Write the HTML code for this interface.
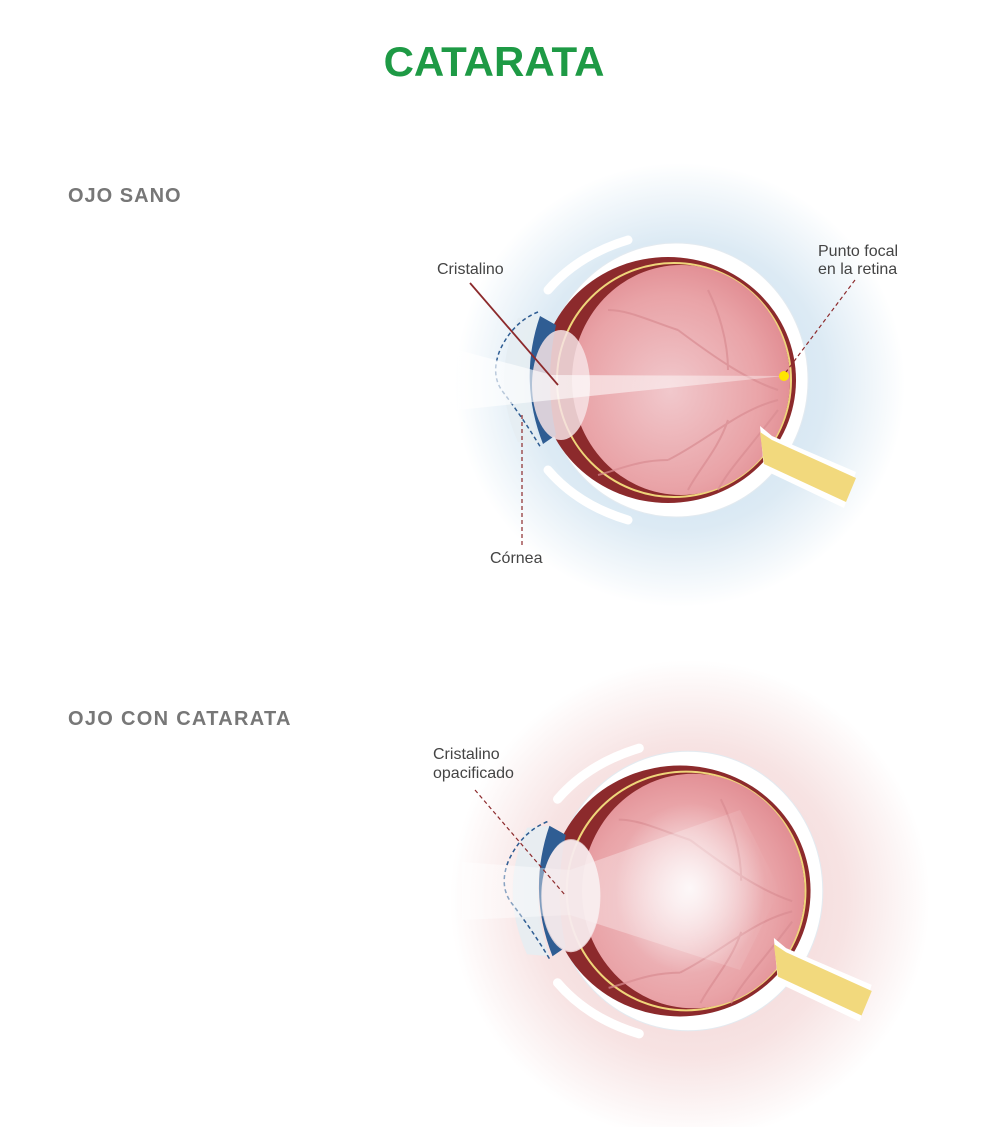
<!DOCTYPE html>
<html><head><meta charset="utf-8"><style>
html,body{margin:0;padding:0;background:#fff;}
svg{display:block;font-family:"Liberation Sans",sans-serif;}
</style></head><body>
<svg width="989" height="1127" viewBox="0 0 989 1127" xmlns="http://www.w3.org/2000/svg">
<defs>
<radialGradient id="gb" cx="0.5" cy="0.5" r="0.5">
<stop offset="0" stop-color="#c6dded"/><stop offset="0.65" stop-color="#dceaf4"/><stop offset="1" stop-color="#ffffff"/></radialGradient>
<radialGradient id="gp" cx="0.5" cy="0.5" r="0.5">
<stop offset="0" stop-color="#f1cfcf"/><stop offset="0.65" stop-color="#f7e3e3"/><stop offset="1" stop-color="#ffffff"/></radialGradient>
<radialGradient id="pink" cx="0.45" cy="0.55" r="0.6">
<stop offset="0" stop-color="#f1c8cc"/><stop offset="0.7" stop-color="#e9a3a7"/><stop offset="1" stop-color="#e08a90"/></radialGradient>
<linearGradient id="beam" x1="0" x2="1"><stop offset="0" stop-color="#fff" stop-opacity="0.95"/><stop offset="1" stop-color="#fff" stop-opacity="0.45"/></linearGradient>
<linearGradient id="beam2" x1="0" x2="1"><stop offset="0" stop-color="#fff" stop-opacity="0.8"/><stop offset="0.7" stop-color="#fff" stop-opacity="0.4"/><stop offset="1" stop-color="#fff" stop-opacity="0"/></linearGradient>
<radialGradient id="cloud" cx="0.5" cy="0.5" r="0.5"><stop offset="0" stop-color="#fff" stop-opacity="0.85"/><stop offset="1" stop-color="#fff" stop-opacity="0"/></radialGradient>
<g id="eye">
<ellipse cx="8" cy="0" rx="132" ry="137" fill="#fff" stroke="#e3eaf0" stroke-width="1"/>
<path d="M-40,-140 Q-90,-125 -120,-90" stroke="#fff" stroke-width="9" fill="none" stroke-linecap="round"/>
<path d="M-40,140 Q-90,125 -120,90" stroke="#fff" stroke-width="9" fill="none" stroke-linecap="round"/>
<ellipse cx="0" cy="0" rx="128" ry="123" fill="#8c2a2c"/>
<ellipse cx="6" cy="0" rx="117" ry="117" fill="none" stroke="#efd57a" stroke-width="2"/>
<ellipse cx="13" cy="0" rx="109" ry="115" fill="url(#pink)"/>
<g stroke="#d98c92" stroke-width="2" fill="none" opacity="0.7">
<path d="M110,20 C70,30 40,60 0,80 M60,40 C50,70 30,90 20,110 M110,10 C80,0 50,-20 10,-50 M60,-10 C60,-40 50,-70 40,-90 M110,30 C80,70 60,90 50,110 M10,-50 C-20,-60 -40,-70 -60,-70 M0,80 C-30,80 -50,90 -70,95"/>
</g>
<path d="M-128,-64 Q-150,0 -128,64 L-150,62 Q-178,0 -150,-62 Z" fill="#e6edf2" opacity="0.9"/>
<path d="M-128,-64 L-112,-55 Q-124,0 -112,55 L-125,64 Q-150,0 -128,-64 Z" fill="#2f5d93"/>
<ellipse cx="-107" cy="5" rx="29" ry="55" fill="#f6e3e5" opacity="0.85"/>
<path d="M-130,-68 Q-155,-58 -168,-30 Q-178,-5 -165,12 Q-145,38 -127,68" stroke="#2f5d93" stroke-width="1.5" stroke-dasharray="4,3" fill="none"/>
<path d="M92,46 L104,56 L188,92 L176,128 L96,90 Z" fill="#fff"/>
<path d="M92,52 L104,60 L188,98 L178,122 L96,84 Z" fill="#f2d97d"/>
</g>
</defs>
<text x="494" y="76" text-anchor="middle" font-size="42" font-weight="bold" fill="#1e9a45">CATARATA</text>
<text x="68" y="202" font-size="20" font-weight="bold" fill="#777" letter-spacing="1">OJO SANO</text>
<text x="68" y="725" font-size="20" font-weight="bold" fill="#777" letter-spacing="1.3">OJO CON CATARATA</text>
<ellipse cx="680" cy="385" rx="225" ry="222" fill="url(#gb)"/>
<ellipse cx="690" cy="900" rx="240" ry="240" fill="url(#gp)"/>
<use href="#eye" transform="translate(668,380)"/>
<path d="M458,350 L552,375 L784,376 L552,400 L458,410 Z" fill="url(#beam)" opacity="0.75"/>
<circle cx="784" cy="376" r="5" fill="#ffe600"/>
<use href="#eye" transform="translate(680,891) scale(1.02)"/>
<path d="M462,862 L570,870 L740,810 L780,890 L740,970 L570,915 L462,920 Z" fill="url(#beam2)" opacity="0.6"/>
<ellipse cx="690" cy="888" rx="75" ry="85" fill="url(#cloud)"/>
<ellipse cx="571" cy="895" rx="29" ry="56" fill="#f8eef0" opacity="0.7"/>
<line x1="470" y1="283" x2="558" y2="385" stroke="#8c2a2c" stroke-width="1.8"/>
<line x1="855" y1="280" x2="786" y2="372" stroke="#8c2a2c" stroke-width="1.2" stroke-dasharray="4,3"/>
<line x1="522" y1="415" x2="522" y2="545" stroke="#8c2a2c" stroke-width="1.2" stroke-dasharray="4,3"/>
<line x1="475" y1="790" x2="565" y2="895" stroke="#8c2a2c" stroke-width="1.2" stroke-dasharray="4,3"/>
<g font-size="16" fill="#444">
<text x="437" y="274">Cristalino</text>
<text x="818" y="256">Punto focal</text>
<text x="818" y="274">en la retina</text>
<text x="490" y="563">Córnea</text>
<text x="433" y="759">Cristalino</text>
<text x="433" y="778">opacificado</text>
</g>
</svg>
</body></html>
